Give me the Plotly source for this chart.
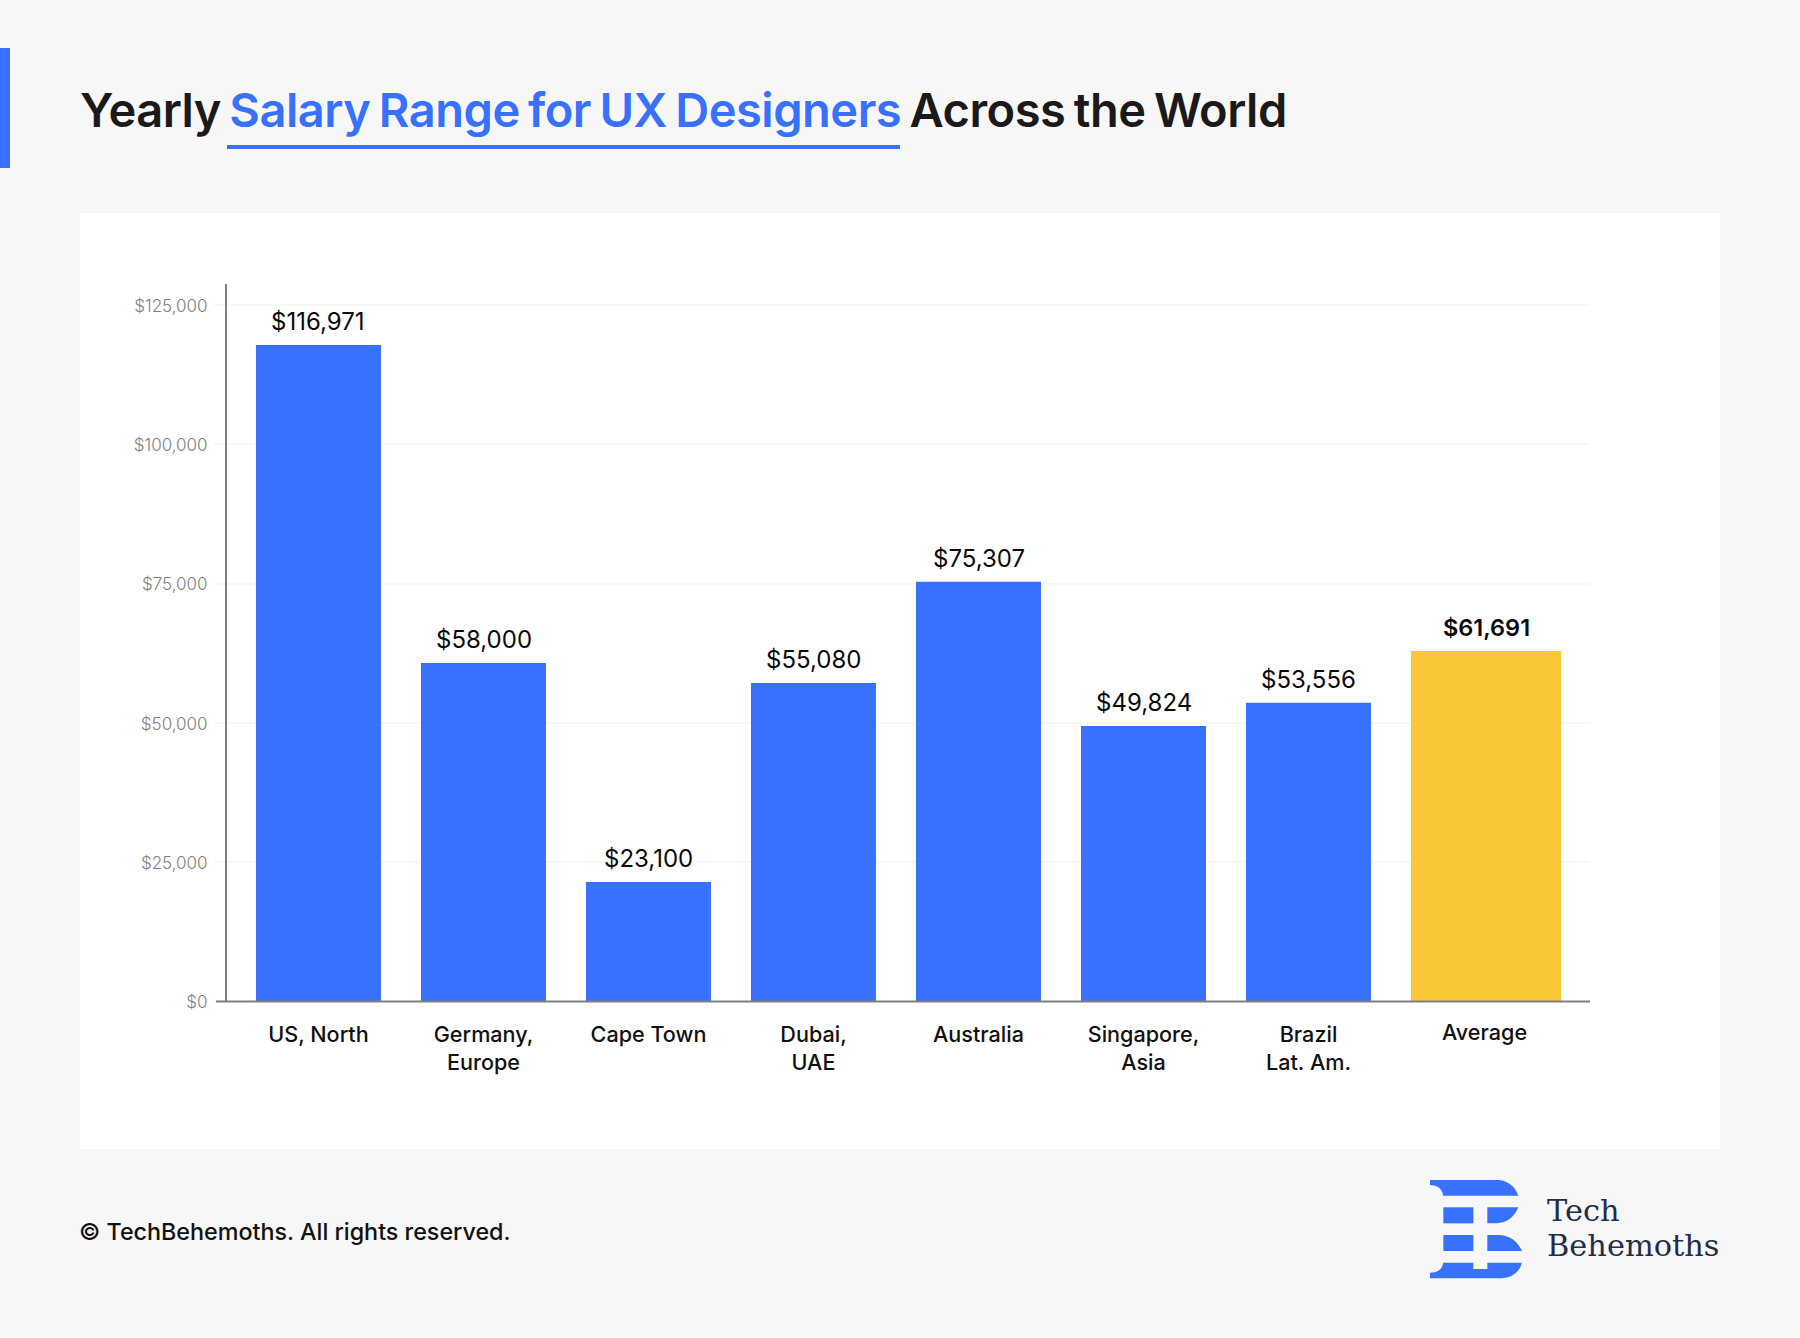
import plotly.graph_objects as go

# chart values
cities = ["US, North", "Germany,<br>Europe", "Cape Town", "Dubai,<br>UAE", "Australia",
          "Singapore,<br>Asia", "Brazil<br>Lat. Am.", "Average"]
bar_heights = [117800, 60750, 21450, 57150, 75300, 49450, 53600, 62900]
value_labels = ["$116,971", "$58,000", "$23,100", "$55,080", "$75,307", "$49,824", "$53,556", "$61,691"]
y_ticks = [0, 25000, 50000, 75000, 100000, 125000]
y_tick_labels = ["$0", "$25,000", "$50,000", "$75,000", "$100,000", "$125,000"]

W, H = 1800, 1338
BLUE = "#3870ff"
YELLOW = "#fac737"
BG = "#f7f7f7"
DARK = "#1a1a1a"
FONT = "Inter"


def px(x):
    return x / W


def py(y):
    return 1 - y / H


def logo_path(points):
    out = []
    for cmd, *xy in points:
        coords = []
        for i in range(0, len(xy), 2):
            coords.append(f"{px(1380 + xy[i] / 3):.5f},{py(1150 + xy[i + 1] / 3):.5f}")
        out.append(cmd + " ".join(coords))
    return " ".join(out) + " Z"


logo_parts = [
    [("M", 150, 90), ("L", 355, 90), ("Q", 400, 95, 415, 137), ("L", 190, 137), ("Q", 185, 105, 150, 105)],
    [("M", 190, 172), ("L", 280, 172), ("L", 280, 220), ("L", 190, 220)],
    [("M", 322, 172), ("L", 415, 172), ("Q", 395, 218, 350, 220), ("L", 322, 220)],
    [("M", 190, 255), ("L", 280, 255), ("L", 280, 303), ("L", 190, 303)],
    [("M", 322, 255), ("L", 360, 255), ("Q", 405, 258, 426, 303), ("L", 322, 303)],
    [("M", 150, 385), ("L", 150, 368), ("Q", 185, 368, 190, 338), ("L", 280, 338), ("L", 280, 357),
     ("L", 322, 357), ("L", 322, 338), ("L", 426, 338), ("Q", 415, 380, 365, 385)],
]

fig = go.Figure()
fig.add_trace(go.Bar(
    x=cities,
    y=bar_heights,
    offset=-0.379,
    width=[0.7576] * 7 + [0.909],
    marker=dict(color=[BLUE] * 7 + [YELLOW], line=dict(width=0)),
    hoverinfo="skip",
))

shapes = [
    dict(type="rect", xref="paper", yref="paper", x0=px(80), x1=px(1720), y0=py(213), y1=py(1149),
         fillcolor="white", line_width=0, layer="below"),
    dict(type="rect", xref="paper", yref="paper", x0=0, x1=px(10), y0=py(48), y1=py(168),
         fillcolor=BLUE, line_width=0),
    dict(type="rect", xref="paper", yref="paper", x0=px(227), x1=px(900), y0=py(145), y1=py(149),
         fillcolor=BLUE, line_width=0),
    dict(type="line", xref="paper", yref="paper", x0=px(216), x1=px(1590), y0=py(1001.5), y1=py(1001.5),
         line=dict(color="#7f7f7f", width=2)),
]
for part in logo_parts:
    shapes.append(dict(type="path", xref="paper", yref="paper", path=logo_path(part),
                       fillcolor=BLUE, line_width=0))

annotations = [
    dict(xref="paper", yref="paper", x=px(78), y=py(110), xanchor="left", yanchor="middle", showarrow=False,
         text='<span style="letter-spacing:-0.48px;word-spacing:-3px">Yearly '
              f'<span style="color:{BLUE}">Salary Range for UX Designers</span> Across the World</span>',
         font=dict(family=FONT, size=47, color=DARK, weight=600)),
    dict(xref="paper", yref="paper", x=px(77), y=py(1231), xanchor="left", yanchor="middle", showarrow=False,
         text="© TechBehemoths. All rights reserved.",
         font=dict(family=FONT, size=23.3, color="#111111", weight=500)),
    dict(xref="paper", yref="paper", x=px(1545), y=py(1210), xanchor="left", yanchor="middle", showarrow=False,
         text="Tech", font=dict(family="DejaVu Serif", size=30.4, color="#1f2d4a")),
    dict(xref="paper", yref="paper", x=px(1545), y=py(1245), xanchor="left", yanchor="middle", showarrow=False,
         text="Behemoths", font=dict(family="DejaVu Serif", size=30.4, color="#1f2d4a")),
    dict(x=cities[7], y=0, yanchor="top", yshift=-16, xshift=11, showarrow=False, text=cities[7],
         font=dict(family=FONT, size=21.6, color="#111111", weight=500)),
]
for i, (city, h, label) in enumerate(zip(cities, bar_heights, value_labels)):
    annotations.append(dict(
        x=city, y=h, yanchor="bottom", yshift=7, xshift=12.5 if i == 7 else 0, showarrow=False, text=label,
        font=dict(family=FONT, size=23.5 if i == 7 else 24, color="#0a0a0a", weight=600 if i == 7 else 400),
    ))

fig.update_layout(
    width=W,
    height=H,
    autosize=False,
    margin=dict(l=0, r=0, t=0, b=0, autoexpand=False),
    paper_bgcolor=BG,
    plot_bgcolor="rgba(0,0,0,0)",
    showlegend=False,
    shapes=shapes,
    annotations=annotations,
    xaxis=dict(
        domain=[px(227), px(1590)],
        automargin=False,
        type="category",
        categoryorder="array",
        categoryarray=cities,
        range=[-0.5545, 7.706],
        tickmode="array",
        tickvals=cities[:7],
        ticktext=cities[:7],
        ticks="",
        ticklabelstandoff=18,
        showgrid=False,
        zeroline=False,
        tickfont=dict(family=FONT, size=21.6, color="#111111", weight=500),
    ),
    yaxis=dict(
        domain=[py(1001.4), py(283.8)],
        automargin=False,
        range=[0, 128800],
        tickmode="array",
        tickvals=y_ticks,
        ticktext=y_tick_labels,
        ticks="outside",
        ticklen=11,
        tickwidth=2,
        tickcolor="#f7f7f7",
        ticklabelstandoff=3,
        ticklabelshift=1,
        showline=True,
        linecolor="#7f7f7f",
        linewidth=2,
        gridcolor="#f7f7f7",
        gridwidth=2,
        zeroline=False,
        tickfont=dict(family=FONT, size=17, color="#808080", weight=300),
    ),
)

# the default body margin would push the fixed-size figure off the page
fig.write_html("out.html", config={"displayModeBar": False},
               post_script="document.body.style.margin = '0';")
